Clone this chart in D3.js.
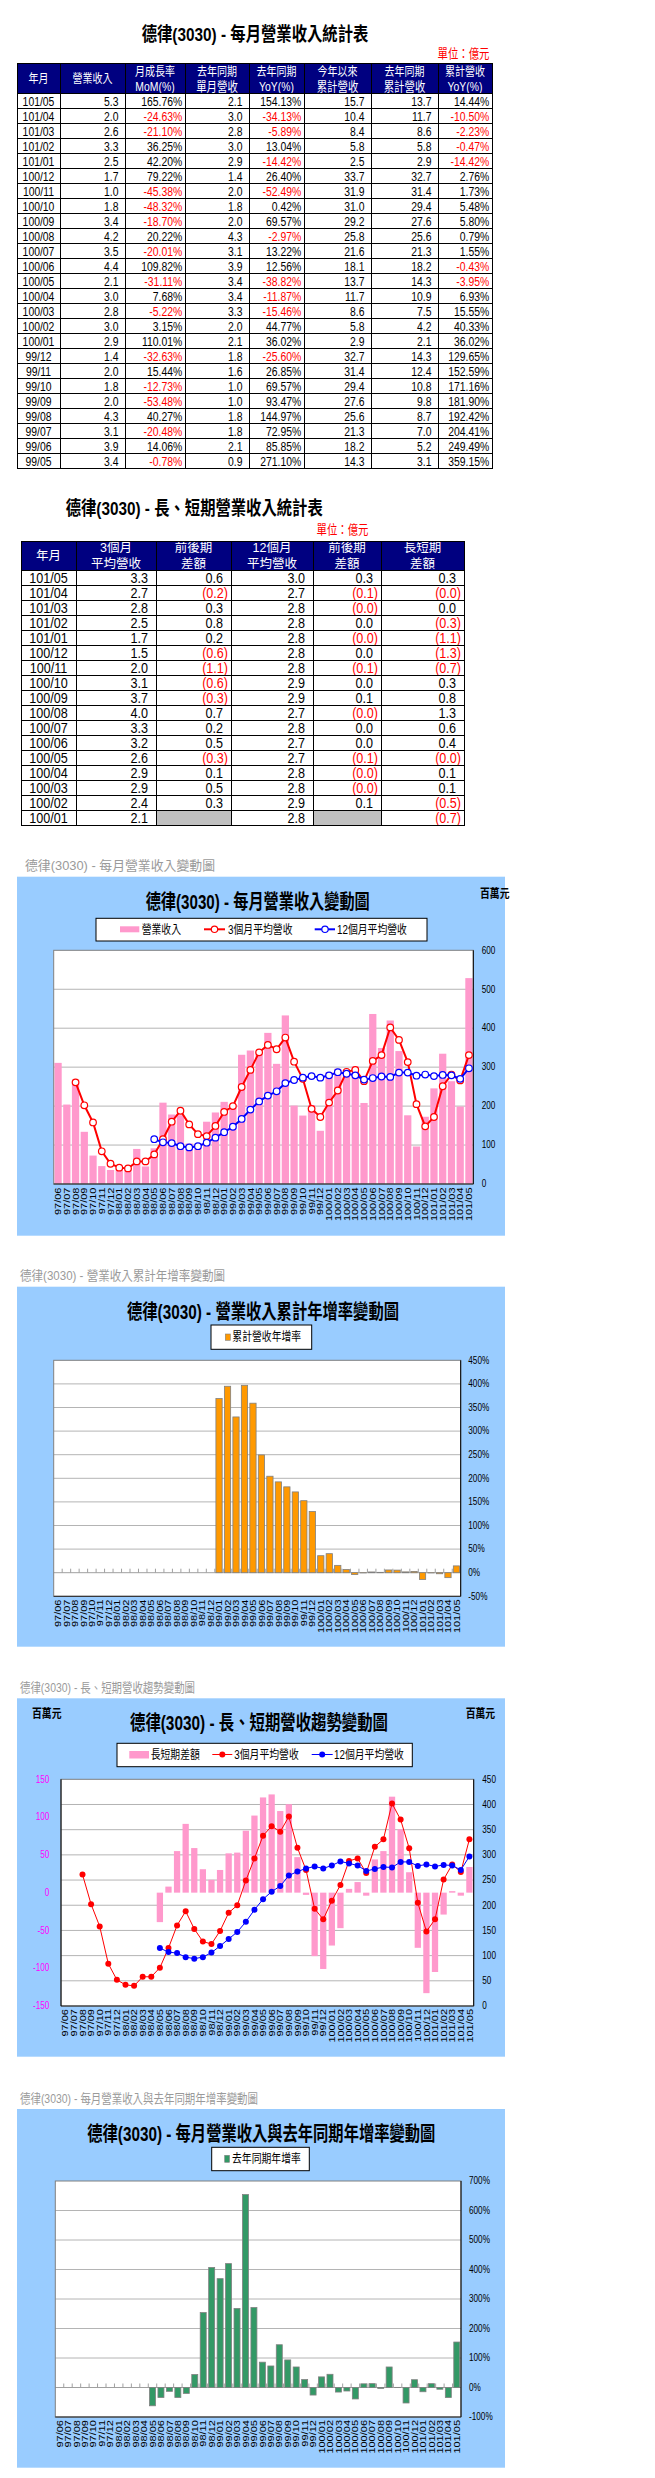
<!DOCTYPE html>
<html><head><meta charset="utf-8">
<script src="https://cdn.jsdelivr.net/npm/d3@7"></script>
<style>body{margin:0;background:#fff} svg{display:block}</style>
</head><body>
<svg id="s" width="655" height="2478"></svg>
<script>
// ---------------- DATA ----------------
const t1Months = ["101/05","101/04","101/03","101/02","101/01","100/12","100/11","100/10","100/09","100/08","100/07","100/06","100/05","100/04","100/03","100/02","100/01","99/12","99/11","99/10","99/09","99/08","99/07","99/06","99/05"];
const t1Rev = [5.3,2.0,2.6,3.3,2.5,1.7,1.0,1.8,3.4,4.2,3.5,4.4,2.1,3.0,2.8,3.0,2.9,1.4,2.0,1.8,2.0,4.3,3.1,3.9,3.4];
const t1MoM = [165.76,-24.63,-21.10,36.25,42.20,79.22,-45.38,-48.32,-18.70,20.22,-20.01,109.82,-31.11,7.68,-5.22,3.15,110.01,-32.63,15.44,-12.73,-53.48,40.27,-20.48,14.06,-0.78];
const t1PrevRev = [2.1,3.0,2.8,3.0,2.9,1.4,2.0,1.8,2.0,4.3,3.1,3.9,3.4,3.4,3.3,2.0,2.1,1.8,1.6,1.0,1.0,1.8,1.8,2.1,0.9];
const t1YoY = [154.13,-34.13,-5.89,13.04,-14.42,26.40,-52.49,0.42,69.57,-2.97,13.22,12.56,-38.82,-11.87,-15.46,44.77,36.02,-25.60,26.85,69.57,93.47,144.97,72.95,85.85,271.10];
const t1Cum = [15.7,10.4,8.4,5.8,2.5,33.7,31.9,31.0,29.2,25.8,21.6,18.1,13.7,11.7,8.6,5.8,2.9,32.7,31.4,29.4,27.6,25.6,21.3,18.2,14.3];
const t1PrevCum = [13.7,11.7,8.6,5.8,2.9,32.7,31.4,29.4,27.6,25.6,21.3,18.2,14.3,10.9,7.5,4.2,2.1,14.3,12.4,10.8,9.8,8.7,7.0,5.2,3.1];
const t1CumYoY = [14.44,-10.50,-2.23,-0.47,-14.42,2.76,1.73,5.48,5.80,0.79,1.55,-0.43,-3.95,6.93,15.55,40.33,36.02,129.65,152.59,171.16,181.90,192.42,204.41,249.49,359.15];
const t1Head = [["年月"],["營業收入"],["月成長率","MoM(%)"],["去年同期","單月營收"],["去年同期","YoY(%)"],["今年以來","累計營收"],["去年同期","累計營收"],["累計營收","YoY(%)"]];

const t2Months = ["101/05","101/04","101/03","101/02","101/01","100/12","100/11","100/10","100/09","100/08","100/07","100/06","100/05","100/04","100/03","100/02","100/01"];
const t2Avg3 = [3.3,2.7,2.8,2.5,1.7,1.5,2.0,3.1,3.7,4.0,3.3,3.2,2.6,2.9,2.9,2.4,2.1];
const t2Diff3 = [0.64,-0.16,0.30,0.79,0.23,-0.56,-1.08,-0.58,-0.32,0.71,0.16,0.52,-0.29,0.06,0.48,0.31,null];
const t2Avg12 = [3.0,2.7,2.8,2.8,2.8,2.8,2.8,2.9,2.9,2.7,2.8,2.7,2.7,2.8,2.8,2.9,2.8];
const t2Diff12 = [0.27,-0.09,-0.01,0.03,-0.03,0.03,-0.09,0.00,0.12,-0.01,0.03,0.04,-0.11,-0.03,-0.04,0.08,null];
const t2LS = [0.34,-0.04,0.02,-0.29,-1.06,-1.33,-0.73,0.27,0.84,1.27,0.56,0.44,-0.04,0.14,0.06,-0.47,-0.70];
const t2Head = [["年月"],["3個月","平均營收"],["前後期","差額"],["12個月","平均營收"],["前後期","差額"],["長短期","差額"]];

const months = ["97/06","97/07","97/08","97/09","97/10","97/11","97/12",
 "98/01","98/02","98/03","98/04","98/05","98/06","98/07","98/08","98/09","98/10","98/11","98/12",
 "99/01","99/02","99/03","99/04","99/05","99/06","99/07","99/08","99/09","99/10","99/11","99/12",
 "100/01","100/02","100/03","100/04","100/05","100/06","100/07","100/08","100/09","100/10","100/11","100/12",
 "101/01","101/02","101/03","101/04","101/05"];
// 百萬元
const revenue = [311,204,268,134,73,46,36,
 45,39,90,45,91.6,208.8,178.4,176.7,104,103.6,159.9,183.6,
 210.9,204.5,331.8,342.7,340,388,308.5,432.8,201.3,175.7,202.8,136.6,
 286.9,296,280.5,302,208,436.5,349.2,419.8,341.3,176.4,96.3,172.6,
 245.5,334.5,263.9,198.9,528.6];
const avg3 = [null,null,261,202,158,84,52,
 42,40,58,58,76,115,160,188,153,128,123,149,
 185,200,249,293,338,357,346,376,314,270,193,172,
 209,240,288,293,264,316,331,402,370,313,205,148,
 172,251,281,266,331];
const avg12 = [null,null,null,null,null,null,null,
 null,null,null,null,115,107,105,97,94,97,106,119,
 133,147,167,191,212,227,238,259,267,273,277,273,
 279,287,283,279,268,272,276,275,286,286,278,281,
 277,280,279,270,297];
const lsDiff = [null,null,null,null,null,null,null,
 null,null,null,null,-39,8,55,91,59,31,17,30,
 52,53,82,102,126,130,108,117,47,-3,-84,-101,
 -70,-47,5,14,-4,44,55,127,84,27,-73,-133,
 -105,-29,2,-4,34];
const cumYoY = [null,null,null,null,null,null,null,
 null,null,null,null,null,null,null,null,null,null,null,null,
 369,395,330,397,359.15,249.49,204.41,192.42,181.90,171.16,152.59,129.65,
 36.02,40.33,15.55,6.93,-3.95,-0.43,1.55,0.79,5.80,5.48,1.73,2.76,
 -14.42,-0.47,-2.23,-10.50,14.44];
const yoy = [null,null,null,null,null,null,null,
 null,null,null,null,-62,-34,-13,-34,-20,44,254,407,
 369,420,268,654,271.10,85.85,72.95,144.97,93.47,69.57,26.85,-25.60,
 36.02,44.77,-15.46,-11.87,-38.82,12.56,13.22,-2.97,69.57,0.42,-52.49,26.40,
 -14.42,13.04,-5.89,-34.13,154.13];

const c1Ticks = [0,100,200,300,400,500,600];
const c2Ticks = [-50,0,50,100,150,200,250,300,350,400,450];
const c3LeftTicks = [-150,-100,-50,0,50,100,150];
const c3RightTicks = [0,50,100,150,200,250,300,350,400,450];
const c4Ticks = [-100,0,100,200,300,400,500,600,700];

// ---------------- HELPERS ----------------
const FONT = "'Liberation Sans','Noto Sans CJK TC',sans-serif";
const svg = d3.select('#s');
function T(p, x, y, s, o = {}) {
  const sx = o.sx ?? 0.82;
  let tr = `translate(${x},${y})`;
  if (sx !== 1) tr += ` scale(${sx},1)`;
  if (o.rot) tr += ' rotate(-90)';
  const t = p.append('text').attr('transform', tr).text(s)
    .attr('font-family', FONT).attr('font-size', o.size || 12)
    .attr('fill', o.fill || '#000').attr('text-anchor', o.anchor || 'start')
    .attr('dominant-baseline', 'central');
  if (o.bold) t.attr('font-weight', 'bold');
  if (o.len) t.attr('textLength', o.len).attr('lengthAdjust', 'spacingAndGlyphs');
  return t;
}
function L(p, x1, y1, x2, y2, c, w = 1) {
  return p.append('line').attr('x1', x1).attr('y1', y1).attr('x2', x2).attr('y2', y2)
    .attr('stroke', c).attr('stroke-width', w);
}
const RED = '#FF0000';

// ---------------- TABLE 1 ----------------
(function () {
  const g = svg.append('g');
  T(g, 141.7, 34, '德律(3030) - 每月營業收入統計表', { size: 19, bold: true, sx: 1, len: 226.6 });
  T(g, 489.5, 53.5, '單位：億元', { size: 13, fill: RED, anchor: 'end', sx: 0.8 });
  const cols = [17, 60, 125, 185, 249, 304, 371, 438, 492];
  const top = 63, hb = 93;
  const y = d3.scaleBand().domain(t1Months).range([hb, hb + 15 * t1Months.length]);
  g.append('rect').attr('x', cols[0]).attr('y', top).attr('width', cols[8] - cols[0]).attr('height', hb - top).attr('fill', '#000080');
  t1Head.forEach((h, i) => {
    const cx = (cols[i] + cols[i + 1]) / 2;
    if (h.length === 1) T(g, cx, 79, h[0], { size: 12.5, fill: '#fff', anchor: 'middle', sx: 0.8 });
    else {
      T(g, cx, 71.5, h[0], { size: 12.5, fill: '#fff', anchor: 'middle', sx: 0.8 });
      T(g, cx, 86.5, h[1], { size: 13, fill: '#fff', anchor: 'middle', sx: 0.8 });
    }
  });
  const num = v => v.toFixed(1), pct = v => v.toFixed(2) + '%';
  const colsData = [t1Rev, t1MoM, t1PrevRev, t1YoY, t1Cum, t1PrevCum, t1CumYoY];
  const isPct = [false, true, false, true, false, false, true];
  t1Months.forEach((m, r) => {
    const cy = y(m) + 8;
    T(g, (cols[0] + cols[1]) / 2, cy, m, { size: 13, anchor: 'middle', sx: 0.8 });
    colsData.forEach((arr, c) => {
      const v = arr[r];
      const s = isPct[c] ? pct(v) : num(v);
      const pad = isPct[c] ? 2.7 : 6.5;
      T(g, cols[c + 2] - pad, cy, s, { size: 13, anchor: 'end', sx: 0.8, fill: (isPct[c] && v < 0) ? RED : '#000' });
    });
  });
  const bottom = hb + 15 * t1Months.length;
  [top, hb].concat(t1Months.map(m => y(m) + 15)).forEach(yy => L(g, cols[0], yy + 0.5, cols[8] + 1, yy + 0.5, '#000'));
  cols.forEach(x => L(g, x + 0.5, top, x + 0.5, bottom + 1, '#000'));
})();

// ---------------- TABLE 2 ----------------
(function () {
  const g = svg.append('g');
  T(g, 65.7, 508.3, '德律(3030) - 長、短期營業收入統計表', { size: 19, bold: true, sx: 1, len: 257 });
  T(g, 368.5, 529.3, '單位：億元', { size: 13, fill: RED, anchor: 'end', sx: 0.8 });
  const cols = [21, 76, 156, 231, 313, 381, 464];
  const top = 541, hb = 570;
  const y = d3.scaleBand().domain(t2Months).range([hb, hb + 15 * t2Months.length]);
  g.append('rect').attr('x', cols[0]).attr('y', top).attr('width', cols[6] - cols[0]).attr('height', hb - top).attr('fill', '#000080');
  t2Head.forEach((h, i) => {
    const cx = (cols[i] + cols[i + 1]) / 2;
    if (h.length === 1) T(g, cx, 555.5, h[0], { size: 12.5, fill: '#fff', anchor: 'middle', sx: 1 });
    else {
      T(g, cx, 548, h[0], { size: 12.5, fill: '#fff', anchor: 'middle', sx: 1 });
      T(g, cx, 563.5, h[1], { size: 12.5, fill: '#fff', anchor: 'middle', sx: 1 });
    }
  });
  const colsData = [t2Avg3, t2Diff3, t2Avg12, t2Diff12, t2LS];
  t2Months.forEach((m, r) => {
    const cy = y(m) + 8;
    T(g, (cols[0] + cols[1]) / 2, cy, m, { size: 14, anchor: 'middle', sx: 0.9 });
    colsData.forEach((arr, c) => {
      const v = arr[r];
      const x0 = cols[c + 1], x1 = cols[c + 2];
      if (v === null) {
        g.append('rect').attr('x', x0).attr('y', y(m)).attr('width', x1 - x0).attr('height', 15).attr('fill', '#C0C0C0');
        return;
      }
      if (v < 0) T(g, x1 - 3, cy, '(' + Math.abs(v).toFixed(1) + ')', { size: 14, anchor: 'end', sx: 0.9, fill: RED });
      else T(g, x1 - 8, cy, v.toFixed(1), { size: 14, anchor: 'end', sx: 0.9 });
    });
  });
  const bottom = hb + 15 * t2Months.length;
  [top, hb].concat(t2Months.map(m => y(m) + 15)).forEach(yy => L(g, cols[0], yy + 0.5, cols[6] + 1, yy + 0.5, '#000'));
  cols.forEach(x => L(g, x + 0.5, top, x + 0.5, bottom + 1, '#000'));
})();

// ---------------- CHART HELPERS ----------------
const GRID = '#B4B4B4';
function panel(top, bottom) {
  svg.append('rect').attr('x', 17).attr('y', top).attr('width', 488).attr('height', bottom - top).attr('fill', '#99CCFF');
}
function sectionLabel(x, y, s, len) { T(svg, x, y, s, { size: 13, fill: '#9A9A9A', sx: 1, len }); }
function xBand(P, pad) {
  return d3.scaleBand().domain(months).range([P.x0, P.x1]).paddingInner(pad).paddingOuter(pad / 2);
}
function plotBg(g, P) {
  g.append('rect').attr('x', P.x0).attr('y', P.y0).attr('width', P.x1 - P.x0).attr('height', P.y1 - P.y0).attr('fill', '#fff');
}
function plotFrame(g, P) {
  g.append('rect').attr('x', P.x0).attr('y', P.y0).attr('width', P.x1 - P.x0).attr('height', P.y1 - P.y0)
    .attr('fill', 'none').attr('stroke', '#808080');
  L(g, P.x1, P.y0, P.x1, P.y1, '#000');
  L(g, P.x0, P.y1, P.x1, P.y1, '#222');
}
function xLabels(g, x, yTop) {
  months.forEach(m => T(g, x(m) + x.bandwidth() / 2, yTop, m, { size: 11, anchor: 'end', rot: true }));
}
function zeroTicks(g, x, y0) {
  const step = x.step();
  for (let i = 1; i < months.length; i++) {
    const xx = x.range()[0] + step * i;
    L(g, xx, y0 - 4, xx, y0, '#A0A0A0');
  }
}

// ---------------- CHART 1 ----------------
(function () {
  sectionLabel(25, 865, '德律(3030) - 每月營業收入變動圖', 190);
  panel(876.7, 1235.7);
  const g = svg.append('g');
  T(g, 145.7, 901.7, '德律(3030) - 每月營業收入變動圖', { size: 20, bold: true, sx: 1, len: 224 });
  T(g, 480, 893.3, '百萬元', { size: 12, bold: true });
  // legend
  g.append('rect').attr('x', 96).attr('y', 918.3).attr('width', 331).attr('height', 22.7).attr('fill', '#fff').attr('stroke', '#000');
  g.append('rect').attr('x', 120).attr('y', 926.3).attr('width', 19.3).attr('height', 6).attr('fill', '#FF99CC');
  T(g, 141.7, 929.3, '營業收入', { size: 12 });
  L(g, 204, 929.3, 225, 929.3, RED, 2);
  g.append('circle').attr('cx', 214.5).attr('cy', 929.3).attr('r', 3.2).attr('fill', '#fff').attr('stroke', RED).attr('stroke-width', 1.2);
  T(g, 228, 929.3, '3個月平均營收', { size: 12 });
  L(g, 314.7, 929.3, 335, 929.3, '#0000FF', 2);
  g.append('circle').attr('cx', 325).attr('cy', 929.3).attr('r', 3.2).attr('fill', '#fff').attr('stroke', '#0000FF').attr('stroke-width', 1.2);
  T(g, 337, 929.3, '12個月平均營收', { size: 12 });

  const P = { x0: 53.7, x1: 473.3, y0: 950.3, y1: 1184 };
  const x = xBand(P, 0.17);
  const y = d3.scaleLinear().domain([0, 600]).range([P.y1, P.y0]);
  plotBg(g, P);
  c1Ticks.slice(1, -1).forEach(t => L(g, P.x0, y(t), P.x1, y(t), GRID));
  g.selectAll('.b1').data(revenue).join('rect')
    .attr('x', (d, i) => x(months[i])).attr('width', x.bandwidth())
    .attr('y', d => y(d)).attr('height', d => y(0) - y(d)).attr('fill', '#FF99CC');
  plotFrame(g, P);
  const cx = i => x(months[i]) + x.bandwidth() / 2;
  [[avg3, RED], [avg12, '#0000FF']].forEach(([arr, col]) => {
    const line = d3.line().defined(d => d !== null).x((d, i) => cx(i)).y(d => y(d));
    g.append('path').attr('d', line(arr)).attr('fill', 'none').attr('stroke', col).attr('stroke-width', 2);
    arr.forEach((d, i) => { if (d !== null) g.append('circle').attr('cx', cx(i)).attr('cy', y(d)).attr('r', 3.3).attr('fill', '#fff').attr('stroke', col).attr('stroke-width', 1.2); });
  });
  c1Ticks.forEach(t => T(g, 481.7, y(t), String(t), { size: 10 }));
  xLabels(g, x, 1187.5);
})();

// ---------------- CHART 2 ----------------
(function () {
  sectionLabel(20, 1275, '德律(3030) -   營業收入累計年增率變動圖', 205);
  panel(1286.7, 1646.7);
  const g = svg.append('g');
  T(g, 127, 1311.7, '德律(3030) -  營業收入累計年增率變動圖', { size: 20, bold: true, sx: 1, len: 272 });
  g.append('rect').attr('x', 211).attr('y', 1325).attr('width', 100.7).attr('height', 24.3).attr('fill', '#fff').attr('stroke', '#000');
  g.append('rect').attr('x', 225.3).attr('y', 1334).attr('width', 5).attr('height', 6.3).attr('fill', '#FF9900').attr('stroke', '#808080').attr('stroke-width', 0.6);
  T(g, 232.3, 1337, '累計營收年增率', { size: 12 });

  const P = { x0: 53.7, x1: 460.7, y0: 1360.3, y1: 1596.3 };
  const x = xBand(P, 0.26);
  const y = d3.scaleLinear().domain([-50, 450]).range([P.y1, P.y0]);
  plotBg(g, P);
  c2Ticks.slice(1, -1).forEach(t => L(g, P.x0, y(t), P.x1, y(t), t === 0 ? '#A0A0A0' : GRID));
  zeroTicks(g, x, y(0));
  g.selectAll('.b2').data(cumYoY).join('rect')
    .filter(d => d !== null)
    .attr('x', (d, i) => x(months[cumYoY.indexOf(d)]))
    .attr('width', x.bandwidth())
    .attr('y', d => Math.min(y(d), y(0))).attr('height', d => Math.abs(y(d) - y(0)))
    .attr('fill', '#FF9900').attr('stroke', '#808080').attr('stroke-width', 0.8);
  plotFrame(g, P);
  c2Ticks.forEach(t => T(g, 468.3, y(t), t + '%', { size: 10 }));
  xLabels(g, x, 1599.5);
})();

// ---------------- CHART 3 ----------------
(function () {
  sectionLabel(20, 1687, '德律(3030) -  長、短期營收趨勢變動圖', 175);
  panel(1698.3, 2056.7);
  const g = svg.append('g');
  T(g, 130, 1723.3, '德律(3030) -  長、短期營收趨勢變動圖', { size: 20, bold: true, sx: 1, len: 258 });
  T(g, 32, 1714, '百萬元', { size: 12, bold: true });
  T(g, 465.7, 1714, '百萬元', { size: 12, bold: true });
  g.append('rect').attr('x', 117).attr('y', 1743.3).attr('width', 295.3).attr('height', 23.4).attr('fill', '#fff').attr('stroke', '#000');
  g.append('rect').attr('x', 129.3).attr('y', 1751).attr('width', 19.7).attr('height', 7.5).attr('fill', '#FF99CC');
  T(g, 150.7, 1754.5, '長短期差額', { size: 12 });
  L(g, 212.3, 1754.5, 232.3, 1754.5, RED, 1);
  g.append('circle').attr('cx', 222.3).attr('cy', 1754.5).attr('r', 3).attr('fill', RED);
  T(g, 234.3, 1754.5, '3個月平均營收', { size: 12 });
  L(g, 311.7, 1754.5, 332.7, 1754.5, '#0000FF', 1);
  g.append('circle').attr('cx', 322.2).attr('cy', 1754.5).attr('r', 3).attr('fill', '#0000FF');
  T(g, 334, 1754.5, '12個月平均營收', { size: 12 });

  const P = { x0: 61, x1: 473.7, y0: 1779.3, y1: 2006 };
  const x = xBand(P, 0.27);
  const yL = d3.scaleLinear().domain([-150, 150]).range([P.y1, P.y0]);
  const yR = d3.scaleLinear().domain([0, 450]).range([P.y1, P.y0]);
  plotBg(g, P);
  c3RightTicks.slice(1, -1).forEach(t => L(g, P.x0, yR(t), P.x1, yR(t), GRID));
  lsDiff.forEach((d, i) => {
    if (d === null) return;
    g.append('rect').attr('x', x(months[i])).attr('width', x.bandwidth())
      .attr('y', Math.min(yL(d), yL(0))).attr('height', Math.abs(yL(d) - yL(0))).attr('fill', '#FF99CC');
  });
  plotFrame(g, P);
  L(g, P.x0, P.y0, P.x0, P.y1, '#000');
  const cx = i => x(months[i]) + x.bandwidth() / 2;
  [[avg3, RED], [avg12, '#0000FF']].forEach(([arr, col]) => {
    const line = d3.line().defined(d => d !== null).x((d, i) => cx(i)).y(d => yR(d));
    g.append('path').attr('d', line(arr)).attr('fill', 'none').attr('stroke', col).attr('stroke-width', 1);
    arr.forEach((d, i) => { if (d !== null) g.append('circle').attr('cx', cx(i)).attr('cy', yR(d)).attr('r', 3).attr('fill', col); });
  });
  c3LeftTicks.forEach(t => T(g, 49.3, yL(t), String(t), { size: 10, fill: '#FF00FF', anchor: 'end' }));
  c3RightTicks.forEach(t => T(g, 482.3, yR(t), String(t), { size: 10 }));
  xLabels(g, x, 2009);
})();

// ---------------- CHART 4 ----------------
(function () {
  sectionLabel(20, 2098.3, '德律(3030) -  每月營業收入與去年同期年增率變動圖', 238);
  panel(2109, 2467.7);
  const g = svg.append('g');
  T(g, 87.3, 2134, '德律(3030) -  每月營業收入與去年同期年增率變動圖', { size: 20, bold: true, sx: 1, len: 348 });
  g.append('rect').attr('x', 211.7).attr('y', 2147.3).attr('width', 97.6).attr('height', 23.4).attr('fill', '#fff').attr('stroke', '#000');
  g.append('rect').attr('x', 224.7).attr('y', 2155.3).attr('width', 4.8).attr('height', 7).attr('fill', '#339966').attr('stroke', '#808080').attr('stroke-width', 0.6);
  T(g, 232, 2158.7, '去年同期年增率', { size: 12 });

  const P = { x0: 55.3, x1: 461, y0: 2181, y1: 2417 };
  const x = xBand(P, 0.29);
  const y = d3.scaleLinear().domain([-100, 700]).range([P.y1, P.y0]);
  plotBg(g, P);
  c4Ticks.slice(1, -1).forEach(t => L(g, P.x0, y(t), P.x1, y(t), t === 0 ? '#A0A0A0' : GRID));
  zeroTicks(g, x, y(0));
  yoy.forEach((d, i) => {
    if (d === null) return;
    g.append('rect').attr('x', x(months[i])).attr('width', x.bandwidth())
      .attr('y', Math.min(y(d), y(0))).attr('height', Math.abs(y(d) - y(0)))
      .attr('fill', '#339966').attr('stroke', '#808080').attr('stroke-width', 0.8);
  });
  plotFrame(g, P);
  c4Ticks.forEach(t => T(g, 469, y(t), t + '%', { size: 10 }));
  xLabels(g, x, 2420);
})();
</script>
</body></html>
